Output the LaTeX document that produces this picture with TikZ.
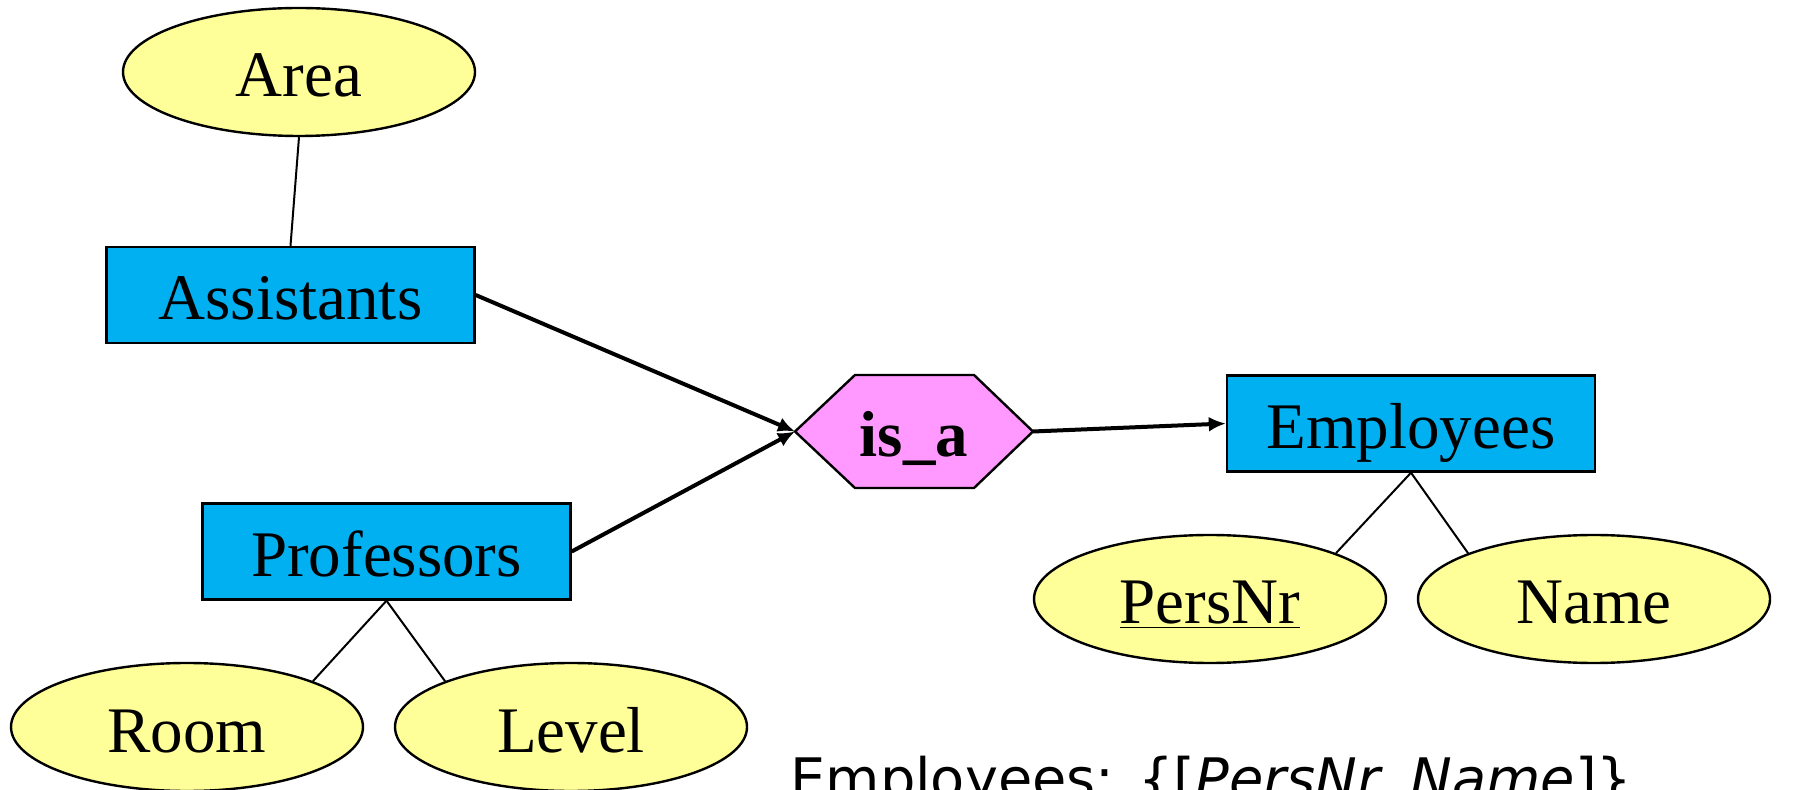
\documentclass[tikz,border=0pt]{standalone}
\usepackage{fontspec}
\setmainfont{Liberation Serif}
\newfontfamily\verdfont{DejaVu Sans}
\usetikzlibrary{shapes.geometric,arrows.meta,calc}
\definecolor{entblue}{RGB}{0,176,240}
\definecolor{attyel}{RGB}{255,255,153}
\definecolor{isapink}{RGB}{255,153,255}
\begin{document}
\begin{tikzpicture}[x=0.5pt,y=-0.5pt,
  lbl/.style={font=\fontsize{32.5}{38}\selectfont, text height=25pt, text depth=0pt},
  entity/.style={lbl, rectangle, draw=black, line width=1.2pt, fill=entblue,
    minimum width=184pt, minimum height=48pt, inner sep=0pt},
  attr/.style={lbl, ellipse, draw=black, line width=1.2pt, fill=attyel,
    minimum width=176pt, minimum height=64pt, inner sep=0pt},
  thinline/.style={line width=1pt},
  arrowline/.style={line width=2pt, -{Latex[length=8.5pt,width=7.5pt]}}]
\useasboundingbox (0,0) rectangle (1804,790);
\clip (0,0) rectangle (1804,790);
% nodes
\node[attr] (area) at (299,72) {Area};
\node[entity] (assist) at (290.5,295) {Assistants};
\node[entity] (prof) at (386.5,551.5) {Professors};
\node[attr] (room) at (187,727) {Room};
\node[attr] (level) at (571,727) {Level};
\node[entity] (emp) at (1411,423.5) {Employees};
\node[attr] (persnr) at (1210,599) {\underline{PersNr}};
\node[attr] (name) at (1594,599) {Name};
% is_a hexagon
\coordinate (isaW) at (795,431.5);
\coordinate (isaE) at (1033,431.5);
\coordinate (isaNW) at (855,375);
\coordinate (isaNE) at (974,375);
\coordinate (isaSE) at (974,488);
\coordinate (isaSW) at (855,488);
\draw[line width=1.2pt, fill=isapink] (isaW) -- (isaNW) -- (isaNE) -- (isaE) -- (isaSE) -- (isaSW) -- cycle;
\node[lbl, inner sep=0pt] (isa) at (914,431.5) {\textbf{is\_a}};
% schema text
\node[font=\verdfont\fontsize{27.9}{33}\selectfont, anchor=base west, inner sep=0pt] (schema) at (790,798) {Employees: \{[\textit{PersNr, Name}]\}};
% connectors
\draw[thinline] (area.south) -- (assist.north);
\draw[thinline] (prof.south) -- (room.20);
\draw[thinline] (prof.south) -- (level.160);
\draw[thinline] (emp.south) -- (persnr.20);
\draw[thinline] (emp.south) -- (name.160);
\draw[arrowline] (assist.east) -- (isaW);
\draw[arrowline] (prof.east) -- (isaW);
\draw[arrowline] (isaE) -- (emp.west);
\end{tikzpicture}
\end{document}
